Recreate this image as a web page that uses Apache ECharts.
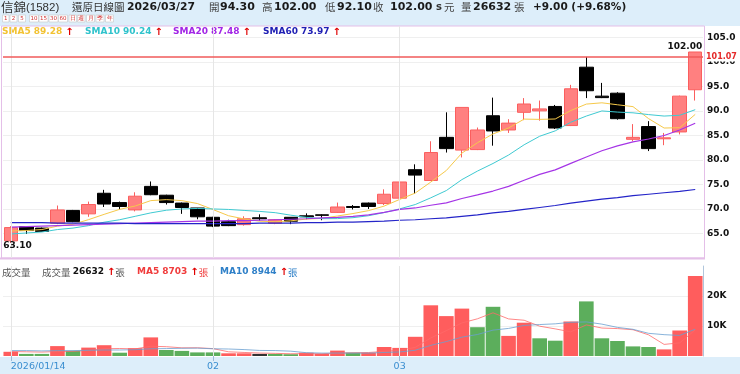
<!DOCTYPE html>
<html><head><meta charset="utf-8">
<script src="https://cdn.jsdelivr.net/npm/echarts@6/dist/echarts.min.js"></script>
<style>html,body{margin:0;padding:0;background:#fff;overflow:hidden}#c{width:740px;height:374px}</style>
</head><body><div id="c"></div>
<script>
// ---------- data ----------
const dates = [
 '2026/01/14','2026/01/15','2026/01/16','2026/01/19','2026/01/20','2026/01/21','2026/01/22','2026/01/23','2026/01/26','2026/01/27','2026/01/28','2026/01/29','2026/01/30',
 '2026/02/02','2026/02/03','2026/02/04','2026/02/05','2026/02/06','2026/02/09','2026/02/10','2026/02/11','2026/02/23','2026/02/24','2026/02/25','2026/02/26',
 '2026/03/02','2026/03/03','2026/03/04','2026/03/05','2026/03/06','2026/03/09','2026/03/10','2026/03/11','2026/03/12','2026/03/13',
 '2026/03/16','2026/03/17','2026/03/18','2026/03/19','2026/03/20','2026/03/23','2026/03/24','2026/03/25','2026/03/26','2026/03/27'];
const opens  = [63.5,66.4,66.1,67.1,69.7,69.0,73.2,71.3,69.8,74.6,72.8,71.2,70.2,68.3,67.4,66.8,68.2,67.1,68.3,68.6,68.8,69.3,70.5,71.2,71.1,72.2,78.0,75.8,84.6,82.0,82.1,89.0,86.1,89.7,90.0,90.9,87.0,98.9,93.0,93.6,84.2,86.8,84.3,85.7,94.3];
const closes = [66.2,65.6,65.4,69.8,67.4,70.9,71.0,70.5,72.6,72.9,71.3,70.3,68.4,66.5,66.6,68.0,68.0,67.8,67.5,68.4,68.7,70.4,70.3,70.5,73.0,75.5,76.9,81.5,82.3,90.7,86.1,85.9,87.5,91.4,90.4,86.5,94.5,94.1,92.7,88.4,84.6,82.3,84.5,93.0,102.0];
const lows   = [63.1,64.9,65.3,66.9,67.3,68.4,70.4,69.9,69.5,72.8,70.9,69.0,67.9,66.3,66.5,66.6,67.6,66.9,66.9,67.9,67.7,69.2,69.9,70.0,70.8,71.5,73.1,75.7,81.5,80.5,82.0,82.9,85.5,88.1,88.0,86.3,86.9,92.6,92.6,88.2,83.8,81.8,83.0,85.2,92.1];
const highs  = [66.5,66.5,66.2,70.7,69.8,71.5,73.9,71.5,73.4,75.6,72.9,71.3,70.2,68.4,67.8,68.5,68.9,67.9,68.3,69.1,68.9,71.3,70.8,71.3,74.0,76.5,79.1,83.8,89.7,90.7,86.6,92.7,88.3,92.6,92.1,91.2,95.3,101.0,95.7,93.8,87.3,87.9,85.5,93.1,102.0];
const sma5  = [65.5,65.6,65.8,66.5,66.88,67.82,68.9,69.92,70.6,71.7,71.9,71.7,71.1,69.88,68.62,67.96,67.5,67.38,67.58,67.94,68.08,68.56,69.06,69.66,70.58,71.94,73.24,75.48,77.84,81.38,83.5,85.3,86.5,88.32,88.26,88.34,90.06,91.38,91.64,91.24,90.86,88.42,86.5,86.56,89.28];
const sma10 = [64.9,65.1,65.3,65.8,66.1,66.6,67.3,67.8,68.5,69.2,69.74,70.0,70.1,70.0,69.9,69.7,69.5,69.24,68.73,68.28,68.02,68.03,68.22,68.62,69.26,70.01,70.9,72.27,73.75,75.98,77.72,79.27,80.99,83.08,84.82,85.92,87.68,88.94,89.98,89.75,89.6,89.24,88.94,89.1,90.24];
const sma20 = [66.3,66.4,66.5,66.6,66.7,66.8,66.9,67.0,67.1,67.2,67.3,67.4,67.5,67.5,67.6,67.6,67.7,67.8,67.9,68.0,68.2,68.3,68.5,68.8,69.3,69.9,70.2,70.76,71.24,72.13,72.87,73.65,74.6,75.85,77.04,77.97,79.29,80.6,81.87,82.87,83.66,84.26,84.97,86.09,87.48];
const sma60 = [67.2,67.2,67.2,67.1,67.1,67.1,67.1,67.1,67.0,67.0,67.0,67.0,67.0,67.0,67.0,67.0,67.1,67.1,67.1,67.2,67.2,67.3,67.3,67.4,67.5,67.7,67.8,68.0,68.2,68.5,68.8,69.2,69.5,69.9,70.3,70.7,71.2,71.6,72.0,72.3,72.7,73.0,73.3,73.6,73.97];
const volumes = [1400,700,700,3300,1700,2800,3600,1100,2600,6200,2000,1700,1200,1200,900,900,700,700,600,1100,700,1800,1100,1100,3000,2700,6400,16900,13300,15800,9600,16400,6700,11100,5900,5100,11500,18200,5900,5000,3200,3000,2200,8500,26632];
const volMa5  = [1500,1400,1300,1500,1560,1840,2420,2500,2360,3260,3100,2720,2740,2460,1400,1180,980,880,760,800,760,980,1060,1160,1540,1940,2860,6020,8460,11020,12400,14400,12360,11920,9940,9040,8060,10360,9320,9140,8760,7060,3860,4380,8703];
const volMa10 = [1800,1800,1700,1800,1800,1900,2000,2000,2100,2410,2470,2570,2620,2410,2330,2140,1850,1810,1610,1100,970,980,970,960,1170,1350,1920,3540,4810,6280,7170,8630,9190,10190,10480,10720,11230,11360,10620,9540,8900,7560,7110,6850,8944];
const priceTicks = [65,70,75,80,85,90,95,100,105];
const volTicks = [10000,20000];
const volTickLabels = ['10K','20K'];
const dateLabelKeys = ['2026/01/14','2026/02/02','2026/03/02'];
const dateLabelTexts = ['2026/01/14','02','03'];
const limitPrice = 101.07;
const stockName = '信錦';
const stockCode = '(1582)';
const chartTitle = '還原日線圖';
const periodButtons = ['1','2','5','10','15','30','60','日','週','月','季','年'];

// ---------- styles ----------
const F = "'DejaVu Sans'";
const LS = "'Liberation Sans'";
const CJK = "'Noto Sans CJK TC'";
const UP = '#ff8080', UPW = '#fb5e5e', DOWN = '#000000';
const VUP = '#ff5d5d', VDOWN = '#5cae5c', VFLAT = '#333333';
const n = dates.length;
const last = n - 1;
const prevClose = closes[last - 1];
const chg = closes[last] - prevClose;

function t(x, y, text, font, fill, extra) {
  return Object.assign({type:'text', x:x, y:y, silent:true, style:{text:text, font:font, fill:fill, verticalAlign:'middle'}}, extra||{});
}
function rt(x, y, text, rich) {
  return {type:'text', x:x, y:y, silent:true, style:{text:text, verticalAlign:'middle', rich:rich}};
}
const g = [];
g.push({type:'rect', z:-100, shape:{x:0,y:0,width:740,height:26}, style:{fill:'#ddeefa'}, silent:true});
g.push({type:'rect', z:-100, shape:{x:0,y:357,width:740,height:17}, style:{fill:'#ddeefa'}, silent:true});
g.push({type:'rect', z:5, shape:{x:1.5,y:26,width:703,height:232}, style:{fill:null, stroke:'#e4bfe8', lineWidth:1}, silent:true});
g.push({type:'line', z:5, shape:{x1:0,y1:258.5,x2:705,y2:258.5}, style:{stroke:'#e4bfe8', lineWidth:2}, silent:true});
// header row 1
const Y1 = 7.5;
g.push(rt(1, Y1, '{a|'+stockName+'}{b|'+stockCode+'}', {a:{fill:'#333',color:'#333',font:'12.5px '+CJK}, b:{fill:'#333',color:'#333',font:'11.5px '+LS}}));
g.push(t(72, Y1, chartTitle, '10.5px '+CJK, '#333'));
g.push(t(127, Y1, dates[last], 'bold 10.8px '+F, '#1a1a1a'));
g.push(t(209, Y1, '開', '10.5px '+CJK, '#444'));
g.push(t(220, Y1, opens[last].toFixed(2), 'bold 11px '+F, '#1a1a1a'));
g.push(t(262, Y1, '高', '10.5px '+CJK, '#444'));
g.push(t(274, Y1, highs[last].toFixed(2), 'bold 11px '+F, '#1a1a1a'));
g.push(t(325, Y1, '低', '10.5px '+CJK, '#444'));
g.push(t(337, Y1, lows[last].toFixed(2), 'bold 11px '+F, '#1a1a1a'));
g.push(t(373, Y1, '收', '10.5px '+CJK, '#444'));
g.push(t(390, Y1, closes[last].toFixed(2), 'bold 11px '+F, '#1a1a1a'));
g.push(t(436, Y1, 's', 'bold 10px '+F, '#333'));
g.push(t(444, Y1, '元', '10.5px '+CJK, '#444'));
g.push(t(461, Y1, '量', '10.5px '+CJK, '#444'));
g.push(t(473, Y1, String(volumes[last]), 'bold 11px '+F, '#1a1a1a'));
g.push(t(514, Y1, '張', '10.5px '+CJK, '#444'));
g.push(t(533, Y1, (chg>=0?'+':'')+chg.toFixed(2)+' ('+(chg>=0?'+':'')+(chg/prevClose*100).toFixed(2)+'%)', 'bold 10.5px '+F, '#1a1a1a'));
// period buttons
const bx = [2.5,10,18.5,29.5,39,49,58.5,69,77.5,86.5,96,105.5];
const bw = [6.5,7,7,9,9,9,9,7.5,7.5,8,8,8];
periodButtons.forEach((s,i)=>{
  g.push({type:'rect', shape:{x:bx[i],y:15,width:bw[i],height:7}, style:{fill:'#fff', stroke:'#c8c8c8', lineWidth:0.6}, silent:true});
  g.push({type:'text', x:bx[i]+bw[i]/2, y:18.7, silent:true, style:{text:s, font:'5.5px '+F, fill:'#d03030', align:'center', verticalAlign:'middle'}});
});
// SMA legend row
const Y2 = 32;
const arrow = {fill:'#e00000', color:'#e00000', font:'bold 10px '+F, padding:[0,0,0,3]};
function legend(x, label, val, col) {
  g.push(rt(x, Y2, '{a|'+label+' '+val.toFixed(2)+'}{r|↑}', {a:{fill:col, color:col, font:'bold 9px '+F}, r:arrow}));
}
legend(2, 'SMA5', sma5[last], '#f2c232');
legend(85, 'SMA10', sma10[last], '#30c3cc');
legend(173, 'SMA20', sma20[last], '#a226e6');
legend(263, 'SMA60', sma60[last], '#1f1fb4');
// volume legend row
const Y3 = 272;
g.push(t(2, Y3, '成交量', '9.5px '+CJK, '#555'));
g.push(rt(42, Y3, '{c|成交量 }{b|'+volumes[last]+'}{r|↑}{c|張}', {c:{fill:'#555',color:'#555',font:'9.5px '+CJK}, b:{fill:'#111',color:'#111',font:'bold 9px '+F}, r:arrow}));
g.push(rt(137, Y3, '{b|MA5 '+volMa5[last]+'}{r|↑}{c|張}', {c:{fill:'#f03c3c',color:'#f03c3c',font:'9.5px '+CJK}, b:{fill:'#f03c3c',color:'#f03c3c',font:'bold 9px '+F}, r:arrow}));
g.push(rt(220, Y3, '{b|MA10 '+volMa10[last]+'}{r|↑}{c|張}', {c:{fill:'#2f80c8',color:'#2f80c8',font:'9.5px '+CJK}, b:{fill:'#2f80c8',color:'#2f80c8',font:'bold 9px '+F}, r:arrow}));

const vLines = dateLabelKeys.map(k => ({xAxis:k, lineStyle:{color:'#e6e6e6', width:1, type:'solid'}, label:{show:false}}));
const isLabel = (i, v) => dateLabelKeys.indexOf(v) >= 0;

const option = {
  animation: false,
  backgroundColor: '#ffffff',
  graphic: {elements: g},
  grid: [
    {left:3, width:700, top:26, height:232, containLabel:false},
    {left:3, width:700, top:266, height:90, containLabel:false}
  ],
  xAxis: [
    {type:'category', gridIndex:0, data:dates, boundaryGap:true,
     axisLine:{show:false}, axisTick:{show:false}, axisLabel:{show:false}, splitLine:{show:false}},
    {type:'category', gridIndex:1, data:dates, boundaryGap:true,
     axisLine:{show:false},
     axisTick:{show:true, alignWithLabel:true, interval:isLabel, length:5, lineStyle:{color:'#9db9d4'}},
     axisLabel:{show:true, interval:isLabel, formatter:v=>dateLabelTexts[dateLabelKeys.indexOf(v)],
       color:'#3a8ed0', fontSize:9.5, fontFamily:'DejaVu Sans', margin:6, alignMinLabel:'left'},
     splitLine:{show:false}}
  ],
  yAxis: [
    {type:'value', gridIndex:0, position:'right', min:60, max:107.3, interval:5,
     axisLine:{show:false}, axisTick:{show:false},
     splitLine:{show:true, showMaxLine:false, lineStyle:{color:'#efefef', width:1}},
     axisLabel:{formatter:v=>priceTicks.indexOf(v)>=0 ? v.toFixed(1) : '', color:'#111', fontWeight:'bold',
       fontSize:9, fontFamily:'DejaVu Sans', margin:4}},
    {type:'value', gridIndex:1, position:'right', min:0, max:30000, interval:10000,
     axisLine:{show:true, lineStyle:{color:'#b0c6dc'}}, axisTick:{show:false},
     splitLine:{show:true, showMinLine:false, showMaxLine:false, lineStyle:{color:'#efefef', width:1}},
     axisLabel:{formatter:v=>{const i=volTicks.indexOf(v); return i>=0?volTickLabels[i]:'';}, color:'#111', fontWeight:'bold',
       fontSize:9, fontFamily:'DejaVu Sans', margin:4}}
  ],
  series: [
    {type:'candlestick', name:'K', xAxisIndex:0, yAxisIndex:0, barWidth:14,
     data: dates.map((d,i)=>[opens[i], closes[i], lows[i], highs[i]]),
     itemStyle:{color:UP, color0:DOWN, borderColor:UPW, borderColor0:DOWN, borderWidth:1},
     markLine:{silent:true, symbol:['none','none'], animation:false,
       data:[...vLines,
        {yAxis:limitPrice, lineStyle:{color:'#f05a5a', width:1.5, type:'solid'},
         label:{show:true, position:'end', formatter:limitPrice.toFixed(2), color:'#e52a2a', fontWeight:'bold',
          fontSize:8, fontFamily:'DejaVu Sans', backgroundColor:'#fff', padding:[1,1,1,1], distance:2}}]},
     markPoint:{silent:true, animation:false, symbol:'rect', symbolSize:0,
       data:[
        {type:'max', valueDim:'highest', label:{show:true, position:'inside', align:'right', offset:[7,-5],
          formatter:p=>Number(p.value).toFixed(2), color:'#111', fontWeight:'bold', fontSize:9, fontFamily:'DejaVu Sans'}},
        {type:'min', valueDim:'lowest', label:{show:true, position:'inside', align:'left', offset:[-7.5,3],
          formatter:p=>Number(p.value).toFixed(2), color:'#111', fontWeight:'bold', fontSize:9, fontFamily:'DejaVu Sans'}}
       ]}},
    {type:'line', name:'SMA5', xAxisIndex:0, yAxisIndex:0, data:sma5, showSymbol:false, symbol:'none', lineStyle:{color:'#f6c94a', width:1}},
    {type:'line', name:'SMA10', xAxisIndex:0, yAxisIndex:0, data:sma10, showSymbol:false, symbol:'none', lineStyle:{color:'#3fcad2', width:1}},
    {type:'line', name:'SMA20', xAxisIndex:0, yAxisIndex:0, data:sma20, showSymbol:false, symbol:'none', lineStyle:{color:'#a535e6', width:1.2}},
    {type:'line', name:'SMA60', xAxisIndex:0, yAxisIndex:0, data:sma60, showSymbol:false, symbol:'none', lineStyle:{color:'#2424c8', width:1.2}},
    {type:'bar', name:'VOL', xAxisIndex:1, yAxisIndex:1, data:volumes, barWidth:'94%',
     itemStyle:{color:p=>{const i=p.dataIndex; if(i===0) return VUP; const d=closes[i]-closes[i-1]; return d>1e-9?VUP:(d<-1e-9?VDOWN:VFLAT);}},
     markLine:{silent:true, symbol:['none','none'], animation:false, data:vLines}},
    {type:'line', name:'VMA5', xAxisIndex:1, yAxisIndex:1, data:volMa5, showSymbol:false, symbol:'none', lineStyle:{color:'#ff6a6a', width:0.8}},
    {type:'line', name:'VMA10', xAxisIndex:1, yAxisIndex:1, data:volMa10, showSymbol:false, symbol:'none', lineStyle:{color:'#6a9fd0', width:0.8}}
  ]
};
const chart = echarts.init(document.getElementById('c'), null, {renderer:'canvas', width:740, height:374});
chart.setOption(option);
</script>
</body></html>
